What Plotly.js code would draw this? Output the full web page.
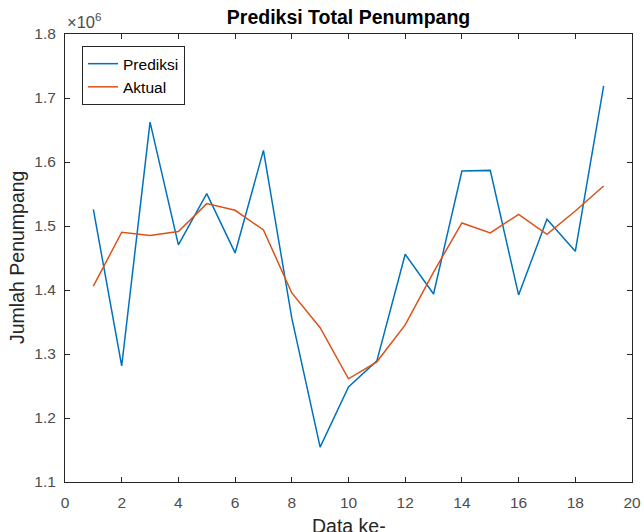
<!DOCTYPE html>
<html>
<head>
<meta charset="utf-8">
<script src="https://cdn.plot.ly/plotly-3.0.1.min.js"></script>
<style>
  html, body { margin: 0; padding: 0; background: #fff; }
  #chart { width: 644px; height: 532px; }
</style>
</head>
<body>
<div id="chart"></div>
<script>
// Index of each data point
const dataIndex = [1, 2, 3, 4, 5, 6, 7, 8, 9, 10, 11, 12, 13, 14, 15, 16, 17, 18, 19];

// Predicted passenger totals
const prediksi = [1526000, 1281500, 1662300, 1470400, 1550600, 1457900, 1618200, 1356000, 1154600, 1248700,
                  1289300, 1455800, 1393800, 1585900, 1586900, 1392300, 1510500, 1460500, 1719100];

// Actual passenger totals
const aktual = [1405900, 1490200, 1485000, 1491300, 1535000, 1524500, 1493800, 1395400, 1341000, 1261200,
                1287800, 1345500, 1428000, 1504700, 1489100, 1518300, 1487100, 1523400, 1562500];

// Y tick positions and their labels (scaled by 10^6)
const yTickVals = [1100000, 1200000, 1300000, 1400000, 1500000, 1600000, 1700000, 1800000];
const yTickText = ['1.1', '1.2', '1.3', '1.4', '1.5', '1.6', '1.7', '1.8'];
const xTickVals = [0, 2, 4, 6, 8, 10, 12, 14, 16, 18, 20];

const axisColor = '#262626';
const fontFamily = 'Liberation Sans, Arial, sans-serif';
const tickFont = { family: fontFamily, size: 15.5, color: '#4d4d4d' };

const traces = [
  {
    x: dataIndex, y: prediksi, name: 'Prediksi', type: 'scatter', mode: 'lines',
    line: { color: '#0072BD', width: 1.5 }
  },
  {
    x: dataIndex, y: aktual, name: 'Aktual', type: 'scatter', mode: 'lines',
    line: { color: '#D95319', width: 1.5 }
  }
];

const layout = {
  width: 644, height: 532,
  margin: { l: 65, r: 12, t: 34, b: 50 },
  paper_bgcolor: '#ffffff', plot_bgcolor: '#ffffff',
  showlegend: true,
  title: {
    text: '<b>Prediksi Total Penumpang</b>',
    font: { family: fontFamily, size: 19.5, color: '#000000' },
    x: 0.5, xref: 'paper', xanchor: 'center',
    y: 0.968, yref: 'container', yanchor: 'middle'
  },
  xaxis: {
    range: [0, 20], tickvals: xTickVals, ticktext: xTickVals.map(String),
    ticks: 'inside', ticklen: 5, tickcolor: axisColor, tickwidth: 1,
    showline: true, linecolor: axisColor, linewidth: 1, mirror: 'ticks',
    showgrid: false, zeroline: false, tickfont: tickFont, automargin: false,
    ticklabelstandoff: 6
  },
  yaxis: {
    range: [1100000, 1800000], tickvals: yTickVals, ticktext: yTickText,
    ticks: 'inside', ticklen: 5, tickcolor: axisColor, tickwidth: 1,
    showline: true, linecolor: axisColor, linewidth: 1, mirror: 'ticks',
    showgrid: false, zeroline: false, tickfont: tickFont, automargin: false,
    ticklabelstandoff: 5
  },
  legend: {
    x: 0.03, y: 0.973, xanchor: 'left', yanchor: 'top',
    bgcolor: '#ffffff', bordercolor: axisColor, borderwidth: 1,
    font: { family: fontFamily, size: 15.5, color: '#000000' },
    tracegroupgap: 0, itemwidth: 30
  },
  annotations: [
    {
      text: '×10<sup>6</sup>', xref: 'paper', yref: 'paper', x: 0, y: 1,
      xanchor: 'left', yanchor: 'bottom', yshift: 1, showarrow: false,
      font: { family: fontFamily, size: 16.5, color: '#4d4d4d' }
    },
    {
      text: 'Data ke-', xref: 'paper', yref: 'paper', x: 0.5, y: 0,
      xanchor: 'center', yanchor: 'top', yshift: -31, showarrow: false,
      font: { family: fontFamily, size: 19.5, color: '#262626' }
    },
    {
      text: 'Jumlah Penumpang', xref: 'paper', yref: 'paper', x: 0, y: 0.5,
      xanchor: 'center', yanchor: 'middle', xshift: -48, textangle: -90, showarrow: false,
      font: { family: fontFamily, size: 19.5, color: '#262626' }
    }
  ]
};

Plotly.newPlot('chart', traces, layout, { displayModeBar: false, staticPlot: true });
</script>
</body>
</html>
